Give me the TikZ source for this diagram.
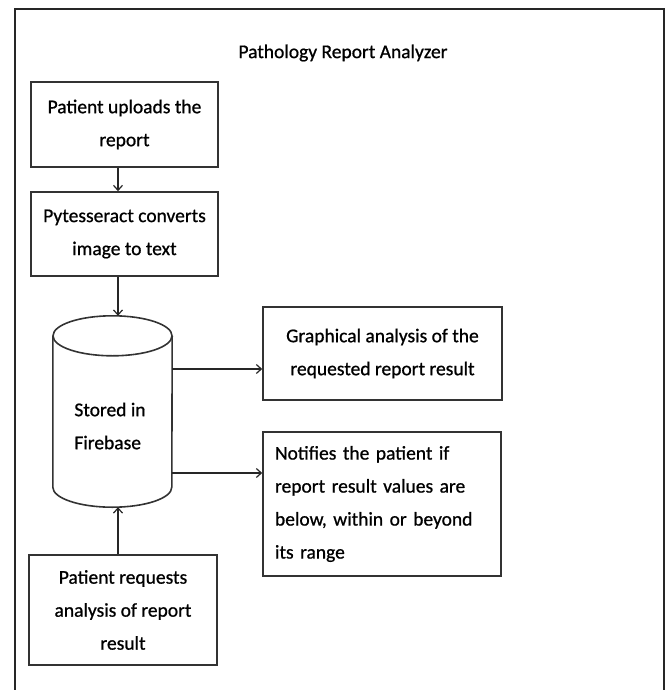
\documentclass[tikz,border=0pt]{standalone}
\usepackage{fontspec}
\setmainfont{Carlito}[BoldFont=Carlito, BoldFeatures={FakeBold=0.8}]
\usetikzlibrary{arrows.meta}

\def\boxfont{\fontsize{19.5}{33}\selectfont\bfseries}
\def\caprad{20pt}

\tikzset{
    stepbox/.style={draw=black!80, line width=1.6pt, align=center, inner sep=0pt, font=\boxfont},
    link/.style={line width=1.2pt, black!85, -{Straight Barb[length=5pt,width=9pt]}},
}

\begin{document}
\begin{tikzpicture}[x=1pt, y=-1pt]
    \useasboundingbox (0,0) rectangle (670,690);

    % Outer frame (runs off the bottom edge)
    \draw[line width=2.2pt, black!85] (15,690) -- (15,9) -- (664,9) -- (664,690);

    % Title
    \node[font=\boxfont] (title) at (343,53) {Pathology Report Analyzer};

    % Left column
    \node[stepbox, minimum width=187pt, minimum height=85pt] (upload) at (124.5,124.5)
        {Patient uploads the\\report};
    \node[stepbox, minimum width=187pt, minimum height=84pt] (convert) at (124.5,234)
        {Pytesseract converts\\image to text};
    \node[minimum width=119pt, minimum height=191pt, inner sep=0pt] (store) at (112.5,411.5) {};
    \node[font=\boxfont, align=left] (storetext) at (110,426) {Stored in\\Firebase};
    \node[stepbox, minimum width=188pt, minimum height=110pt] (request) at (123,610)
        {Patient requests\\analysis of report\\result};

    % Database drum
    \draw[black!80, line width=1.6pt]
        ([yshift=-\caprad]store.north west) -- ([yshift=\caprad]store.south west)
        arc[start angle=180, end angle=360, x radius=59.5pt, y radius=\caprad]
        -- ([yshift=-\caprad]store.north east);
    \draw[black!80, line width=1.6pt] ([yshift=-\caprad]store.north)
        ellipse[x radius=59.5pt, y radius=\caprad];

    % Right column
    \node[stepbox, minimum width=239pt, minimum height=93pt] (graph) at (382.5,353.5)
        {Graphical analysis of the\\requested report result};
    \node[stepbox, minimum width=238pt, minimum height=144pt, text width=214pt, align=left]
        (notify) at (382,504)
        {Notifies the patient if\\report result values are\\below, within or beyond\\its range};

    % Arrow lanes
    \coordinate (lane) at (118,0);
    \coordinate (upper) at (0,369);
    \coordinate (lower) at (0,473);

    % Connectors
    \draw[link] (upload.south -| lane) -- (convert.north -| lane);
    \draw[link] (convert.south -| lane) -- (store.north -| lane);
    \draw[link] (request.north -| lane) -- (store.south -| lane);
    \draw[link] (store.east |- upper) -- (graph.west |- upper);
    \draw[link] (store.east |- lower) -- (notify.west |- lower);
\end{tikzpicture}
\end{document}
